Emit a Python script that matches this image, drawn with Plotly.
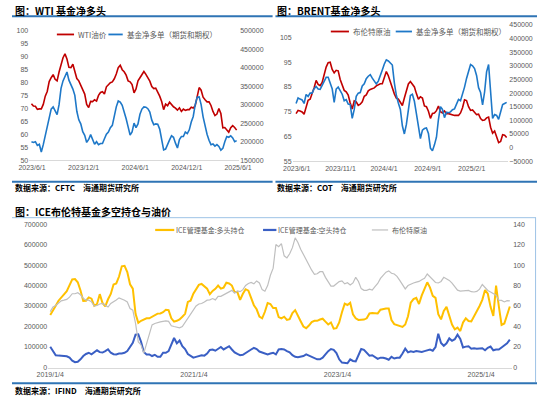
import pandas as pd
import plotly.graph_objects as go

# ---------------- data ----------------
wti_dates = pd.date_range("2023-05-30", periods=105, freq="7D")
wti_price = [71.8,70.9,70.8,69.6,69.8,69.8,71.5,74.7,76.5,80.3,
             81.8,83.0,81.2,80.6,84.0,87.2,89.5,91.0,89.0,85.8,
             85.7,87.0,84.3,81.5,80.6,79.0,77.0,75.5,71.5,70.3,
             72.7,72.6,73.3,72.8,75.0,76.1,76.4,75.5,78.3,79.0,
             79.9,80.2,81.4,83.2,85.7,86.6,84.9,84.1,82.8,80.6,
             80.2,79.2,76.0,77.5,80.6,81.8,83.0,84.2,83.1,82.0,
             80.5,78.4,77.6,77.8,76.3,74.7,72.6,69.5,71.6,71.0,
             72.4,71.4,70.6,70.1,69.3,70.2,68.8,69.7,69.2,69.5,
             69.5,70.4,70.1,71.0,74.5,78.0,77.0,74.3,73.3,72.5,
             72.5,71.1,68.8,67.2,67.8,69.9,68.0,62.5,62.6,61.7,
             60.8,62.5,63.3,62.6,61.6]
wti_net_k = [200,198,200,190,193,172,192,216,243,269,
             288,294,283,273,300,344,364,378,388,366,
             356,342,325,282,259,248,227,217,198,206,
             219,205,193,200,192,195,195,208,220,226,
             238,244,272,294,310,307,298,282,262,240,
             218,226,250,238,248,274,288,294,293,289,
             280,258,246,248,247,234,200,178,180,194,
             205,216,212,196,183,206,214,214,226,222,
             232,253,268,300,320,321,300,267,242,220,
             204,192,194,188,192,187,177,182,200,214,
             212,216,210,200,203]

brent_dates = pd.date_range("2023-05-30", periods=106, freq="7D")
brent_price = [74.2,75.5,75.3,74.9,74.0,76.4,79.6,80.0,82.0,84.7,
               87.6,86.0,85.5,86.8,89.9,93.0,94.8,95.0,92.1,90.7,
               91.7,91.5,88.0,85.6,83.6,83.0,81.7,78.5,76.1,79.4,
               79.0,77.5,78.0,79.0,81.2,81.8,83.4,84.0,84.4,84.6,
               85.4,85.8,86.3,86.3,88.7,91.2,89.5,87.0,84.0,82.2,
               80.5,80.1,78.8,77.5,80.5,83.8,86.2,87.2,86.0,85.0,
               82.3,80.0,81.0,80.5,77.3,77.0,75.2,72.3,74.3,74.5,
               75.4,77.3,75.0,74.5,75.3,74.2,74.2,73.9,73.8,73.5,
               73.5,73.5,74.5,76.6,79.8,79.5,77.0,75.5,75.7,74.5,
               73.8,74.0,72.2,71.5,71.6,72.5,72.8,68.7,66.3,67.2,
               65.0,62.5,63.0,65.7,65.5,64.6]
brent_net_k = [162,182,178,175,162,195,188,200,200,216,
               224,215,214,228,243,258,258,240,216,166,
               215,222,208,196,172,176,160,158,107,140,
               188,200,202,226,234,253,262,268,255,244,
               234,244,262,285,307,322,318,312,303,238,
               192,164,140,80,50,85,137,191,196,170,
               125,78,33,64,70,72,52,-2,-12,10,
               38,104,150,140,110,130,128,131,139,142,
               163,177,172,194,222,254,277,305,300,290,
               265,220,202,157,204,278,305,195,107,121,
               118,104,134,158,162,166]

ice_dates = pd.date_range("2019-01-04", periods=168, freq="14D")
ice_long_k = [256,277,302,326,344,357,372,402,430,432,
              416,376,325,326,342,336,301,310,358,315,
              298,333,359,405,410,444,494,496,466,406,
              385,262,218,228,235,240,240,248,255,263,
              264,270,282,280,240,224,228,235,248,262,
              320,326,360,380,403,408,398,385,358,374,
              384,400,385,390,414,410,400,368,368,330,
              360,382,375,340,304,284,248,240,272,315,
              310,290,290,246,240,248,232,236,266,280,
              256,226,200,192,205,222,228,228,234,238,
              224,210,220,190,192,220,270,312,305,316,
              260,240,232,232,234,240,264,266,264,264,
              282,286,288,288,232,212,208,204,198,210,
              250,316,334,340,310,352,380,416,390,350,
              340,260,235,276,296,255,210,186,195,178,
              220,240,227,225,250,270,300,330,378,360,
              296,252,400,300,208,215,262,298]
ice_short_k = [101,82,60,58,57,58,55,48,33,26,
               28,40,56,66,72,64,72,84,75,73,
               80,89,72,65,64,68,68,72,80,101,
               120,160,162,126,76,64,64,56,62,52,
               52,72,72,80,112,144,118,132,104,90,
               66,56,48,52,56,60,58,68,86,88,
               82,92,100,88,96,104,88,74,66,60,
               62,72,80,88,96,90,78,72,70,64,
               68,72,64,88,90,88,80,74,60,52,
               50,53,56,64,58,50,44,40,40,48,
               64,80,90,86,70,40,24,24,21,40,
               32,30,64,90,86,72,58,60,50,42,
               48,48,44,38,52,44,48,48,68,92,
               74,79,76,80,78,76,80,85,88,82,
               100,165,120,106,118,142,130,138,160,140,
               98,102,104,92,94,92,94,94,84,96,
               102,84,88,88,98,108,118,136]
ice_brent = [54.5,59,60.5,62.8,65,65.7,66.5,68.7,72,72,
             73,71,67.5,65.7,65.7,64.1,60,60.5,62,62.5,
             61,59,62.5,64,66,68,67,65.7,64,57.5,
             56,43,25,22,14,24,33,41.6,43,44,
             44.5,45,45.5,45,40.7,40,39.5,38.8,40,44,
             49,53,56,60,62,62.5,64,65.7,66,67.3,
             66,69.5,69.5,71,72.5,74,75.3,72.5,74.7,74,
             76,80,82,83,81.7,84.5,82.5,76,74.5,80,
             90,97,120,118,121,109,107,111,117,126.6,
             122,115.5,110,106,100.5,95,91,91.5,93.5,93.5,
             88,84,79.5,79.5,81.5,83.8,84.5,81.7,82.7,80.5,
             82.5,88,84,77,75.3,75.3,76.5,75.5,79,82,
             87,90,93,94.3,92,91.3,89,85,81,76.7,
             80,81.4,82.5,83.3,84,85.7,87,91.3,88.5,85.5,
             83,82.5,84,88,86.5,85,82.3,78.5,75.5,74.5,
             74.8,75.5,75.3,74,73.7,74.3,76.5,81,78.5,75.2,
             73.8,72.5,70.5,65.7,65.5,64,65.3,65]

wti_ticks = ["2023-06-01", "2023-12-01", "2024-06-01", "2024-12-01", "2025-06-01"]
wti_ticktext = ["2023/6/1", "2023/12/1", "2024/6/1", "2024/12/1", "2025/6/1"]
brent_ticks = ["2023-06-01", "2023-11-01", "2024-04-01", "2024-09-01", "2025-02-01"]
brent_ticktext = ["2023/6/1", "2023/11/1", "2024/4/1", "2024/9/1", "2025/2/1"]
ice_ticks = ["2019-01-04", "2021-01-04", "2023-01-04", "2025-01-04"]
ice_ticktext = ["2019/1/4", "2021/1/4", "2023/1/4", "2025/1/4"]

# ---------------- styles ----------------
W, H = 550, 399
RED = "#C00000"
BLUE = "#1E78C8"
YEL = "#FFC000"
DBLUE = "#3A5FC4"
GRAY = "#BFBFBF"
RULE = "#2F74B5"
TXT = "#595959"
CJK = "Noto Sans CJK SC"
TICKF = dict(family="Liberation Sans, Arial", size=7, color=TXT)


def px(x):
    return x / W


def py(y):
    return 1 - y / H


fig = go.Figure()

fig.add_trace(go.Scatter(x=wti_dates, y=wti_price, mode="lines", name="WTI油价",
                         line=dict(color=RED, width=1.6), xaxis="x", yaxis="y"))
fig.add_trace(go.Scatter(x=wti_dates, y=[v * 1000 for v in wti_net_k], mode="lines",
                         name="基金净多单（期货和期权）",
                         line=dict(color=BLUE, width=1.6), xaxis="x", yaxis="y2"))
fig.add_trace(go.Scatter(x=brent_dates, y=brent_price, mode="lines", name="布伦特原油",
                         line=dict(color=RED, width=1.6), xaxis="x2", yaxis="y3"))
fig.add_trace(go.Scatter(x=brent_dates, y=[v * 1000 for v in brent_net_k], mode="lines",
                         name="基金净多单（期货和期权）",
                         line=dict(color=BLUE, width=1.6), xaxis="x2", yaxis="y4"))
fig.add_trace(go.Scatter(x=ice_dates, y=[v * 1000 for v in ice_long_k], mode="lines",
                         name="ICE管理基金:多头持仓",
                         line=dict(color=YEL, width=2), xaxis="x3", yaxis="y5"))
fig.add_trace(go.Scatter(x=ice_dates, y=[v * 1000 for v in ice_short_k], mode="lines",
                         name="ICE管理基金:空头持仓",
                         line=dict(color=DBLUE, width=2), xaxis="x3", yaxis="y5"))
fig.add_trace(go.Scatter(x=ice_dates, y=ice_brent, mode="lines", name="布伦特原油",
                         line=dict(color=GRAY, width=1.2), xaxis="x3", yaxis="y6"))

xcommon = dict(type="date", showgrid=False, zeroline=False, showline=True,
               linecolor="#D9D9D9", linewidth=1, ticks="", tickfont=TICKF)
ycommon = dict(showgrid=False, zeroline=False, showline=False, ticks="",
               tickfont=TICKF, tickformat="d")

fig.update_layout(
    width=W, height=H, margin=dict(l=0, r=0, t=0, b=0),
    paper_bgcolor="white", plot_bgcolor="rgba(0,0,0,0)", showlegend=False,
    xaxis=dict(xcommon, domain=[px(18), px(238)], anchor="y",
               range=["2023-05-22", "2025-06-05"],
               tickvals=wti_ticks, ticktext=wti_ticktext),
    yaxis=dict(ycommon, domain=[py(159), py(27)], range=[50, 100], dtick=5,
               anchor="x"),
    yaxis2=dict(ycommon, overlaying="y", side="right", anchor="x",
                range=[150000, 500000], dtick=50000),
    xaxis2=dict(xcommon, domain=[px(294), px(520)], anchor="y3",
                range=["2023-05-18", "2025-06-09"],
                tickvals=brent_ticks, ticktext=brent_ticktext),
    yaxis3=dict(ycommon, domain=[py(160), py(21.4)], range=[55, 110],
                tickvals=[55, 65, 75, 85, 95, 105], anchor="x2"),
    yaxis4=dict(ycommon, overlaying="y3", side="right", anchor="x2",
                range=[-50000, 450000], dtick=50000),
    xaxis3=dict(xcommon, domain=[px(38), px(524)], anchor="y5",
                range=["2018-12-25", "2025-06-11"],
                tickvals=ice_ticks, ticktext=ice_ticktext),
    yaxis5=dict(ycommon, domain=[py(370), py(224)], range=[0, 700000],
                dtick=100000, anchor="x3"),
    yaxis6=dict(ycommon, overlaying="y5", side="right", anchor="x3",
                range=[0, 140], dtick=20),
)

shapes = []
annos = []


def hline(x0, x1, y, color, width):
    shapes.append(dict(type="line", xref="paper", yref="paper",
                       x0=px(x0), x1=px(x1), y0=py(y), y1=py(y),
                       line=dict(color=color, width=width)))


def vline(x, y0, y1, color, width):
    shapes.append(dict(type="line", xref="paper", yref="paper",
                       x0=px(x), x1=px(x), y0=py(y0), y1=py(y1),
                       line=dict(color=color, width=width)))


def text(x, y, s, size, color="black", bold=False):
    annos.append(dict(xref="paper", yref="paper", x=px(x), y=py(y),
                      xanchor="left", yanchor="middle", showarrow=False,
                      text=("<b>%s</b>" % s) if bold else s,
                      font=dict(family=CJK, size=size, color=color)))


# titles and rules
hline(0, 273, 12.5, RULE, 2)
hline(276, 550, 12.5, RULE, 2)
hline(0, 273, 181, RULE, 2)
hline(276, 550, 181, RULE, 2)
hline(0, 549, 217.5, "#9DC3E6", 1)
vline(548.5, 217.5, 385, "#9DC3E6", 1)
hline(0, 550, 386, RULE, 2)
text(1, 6.5, "图：WTI 基金净多头", 10, bold=True)
text(276, 6.5, "图：BRENT基金净多头", 10, bold=True)
text(1, 211, "图：ICE布伦特基金多空持仓与油价", 10, bold=True)
text(1, 186.5, "数据来源：CFTC\u3000海通期货研究所", 8, bold=True)
text(276, 186.5, "数据来源：COT\u3000海通期货研究所", 8, bold=True)
text(1, 393, "数据来源：IFIND\u3000海通期货研究所", 8, bold=True)

# legends
hline(47, 65, 31, RED, 1.8)
text(67, 31, "WTI油价", 7.5, TXT)
hline(101, 116, 31, BLUE, 1.8)
text(118, 31, "基金净多单（期货和期权）", 7.5, TXT)
hline(334, 353, 28, RED, 1.8)
text(355, 28, "布伦特原油", 7.5, TXT)
hline(402, 419, 28, BLUE, 1.8)
text(421, 28, "基金净多单（期货和期权）", 7.5, TXT)
hline(150, 170, 230, YEL, 2.2)
text(170, 230, "ICE管理基金:多头持仓", 7, TXT)
hline(263, 277, 230, DBLUE, 2.2)
text(277, 230, "ICE管理基金:空头持仓", 7, TXT)
hline(377, 394, 230, GRAY, 1.2)
text(396, 230, "布伦特原油", 7, TXT)

fig.update_layout(shapes=shapes, annotations=annos)
fig.write_html("out.html",
               config={"displayModeBar": False, "staticPlot": True},
               post_script="document.body.style.margin='0';"
                           "document.body.style.overflow='hidden';")
